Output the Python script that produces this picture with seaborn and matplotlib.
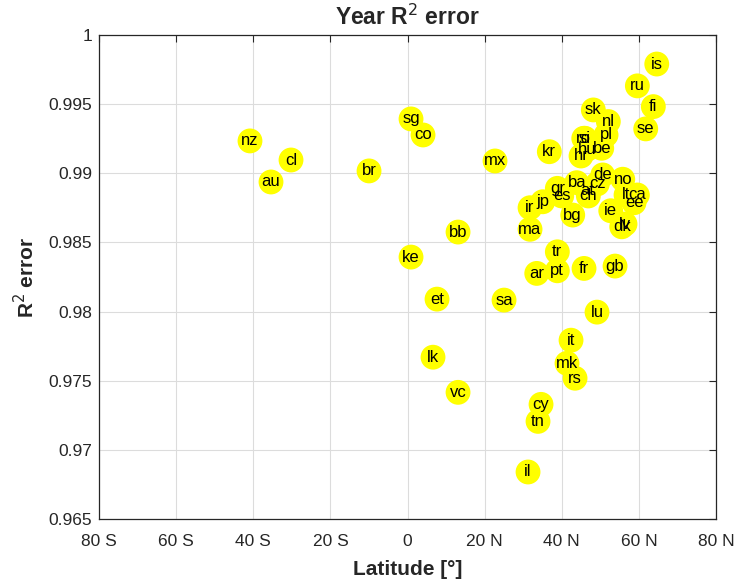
import matplotlib
matplotlib.use("Agg")
import matplotlib.pyplot as plt
import seaborn as sns
import pandas as pd

countries = ["nz", "cl", "au", "br", "sg", "co", "ke", "et", "lk", "vc", "bb", "mx", "sa",
             "kr", "gr", "ir", "jp", "es", "ma", "bg", "tr", "ar", "pt", "fr", "gb", "lu",
             "it", "mk", "rs", "cy", "tn", "il", "is", "ru", "fi", "se", "sk", "nl", "si",
             "ro", "pl", "hu", "be", "hr", "de", "no", "ba", "cz", "at", "ch", "lt", "ca",
             "ee", "ie", "dk", "lv"]
latitude = [-40.85, -30.21, -35.40, -9.98, 0.91, 4.02, 0.91, 7.65, 6.61, 13.10, 13.10, 22.69,
            25.03, 36.77, 38.85, 31.77, 35.06, 39.99, 31.77, 42.84, 38.85, 33.51, 38.85, 45.77,
            53.81, 49.14, 42.40, 41.36, 43.44, 34.62, 33.84, 31.25, 64.63, 59.60, 63.74, 61.77,
            48.18, 52.07, 46.0, 45.7, 51.48, 46.63, 50.36, 44.99, 50.62, 55.81, 43.88, 49.22,
            46.63, 46.89, 56.66, 59.60, 58.74, 52.70, 55.55, 56.40]
r2_error = [0.99234, 0.99096, 0.98937, 0.99017, 0.99393, 0.99277, 0.98394, 0.98090, 0.97670,
            0.97416, 0.98575, 0.99089, 0.98083, 0.99156, 0.98891, 0.98751, 0.98794, 0.98836,
            0.98595, 0.98698, 0.98432, 0.98276, 0.98295, 0.98312, 0.98329, 0.97996, 0.97793,
            0.97626, 0.97518, 0.97329, 0.97206, 0.96840, 0.99790, 0.99632, 0.99482, 0.99321,
            0.99458, 0.99374, 0.99253, 0.99253, 0.99277, 0.99174, 0.99181, 0.99125, 0.98988,
            0.98957, 0.98932, 0.98923, 0.98874, 0.98836, 0.98843, 0.98843, 0.98787, 0.98729,
            0.98613, 0.98633]
x_ticks = [-80, -60, -40, -20, 0, 20, 40, 60, 80]
x_tick_labels = ["80 S", "60 S", "40 S", "20 S", "0", "20 N", "40 N", "60 N", "80 N"]
y_ticks = [0.965, 0.97, 0.975, 0.98, 0.985, 0.99, 0.995, 1.0]
y_tick_labels = ["0.965", "0.97", "0.975", "0.98", "0.985", "0.99", "0.995", "1"]

df = pd.DataFrame({"country": countries, "lat": latitude, "r2": r2_error})

sns.set_style("white")
plt.rcParams["font.family"] = ["Liberation Sans", "DejaVu Sans"]

fig = plt.figure(figsize=(7.35, 5.85), dpi=100)
ax = fig.add_axes([0.1347, 0.1128, 0.8395, 0.8274])

sns.scatterplot(data=df, x="lat", y="r2", ax=ax, s=320, color="#ffff00",
                edgecolor="none", linewidth=0, legend=False, zorder=3)
for c, x, y in zip(countries, latitude, r2_error):
    ax.text(x, y, c, ha="center", va="center", fontsize=12, color="black", zorder=4)

ax.set_xlim(-80, 80)
ax.set_ylim(0.965, 1.0)
ax.set_xticks(x_ticks)
ax.set_xticklabels(x_tick_labels)
ax.set_yticks(y_ticks)
ax.set_yticklabels(y_tick_labels)
ax.grid(True, color="#dcdcdc", linewidth=0.8)
ax.set_axisbelow(True)
for sp in ax.spines.values():
    sp.set_visible(True)
    sp.set_color("#262626")
    sp.set_linewidth(0.9)
ax.tick_params(direction="in", top=True, right=True, length=5, width=0.8,
               labelsize=12.5, colors="#262626", labelcolor="#262626")
ax.tick_params(axis="x", pad=11)
ax.tick_params(axis="y", pad=5)

ax.set_title("Year R$^2$ error", fontsize=16.5, fontweight="bold", pad=7)
ax.set_xlabel("Latitude [°]", fontsize=15, fontweight="bold", labelpad=8)
ax.set_ylabel("R$^2$ error", fontsize=15, fontweight="bold", labelpad=7)

fig.savefig("out.png", dpi=100, facecolor="white")
